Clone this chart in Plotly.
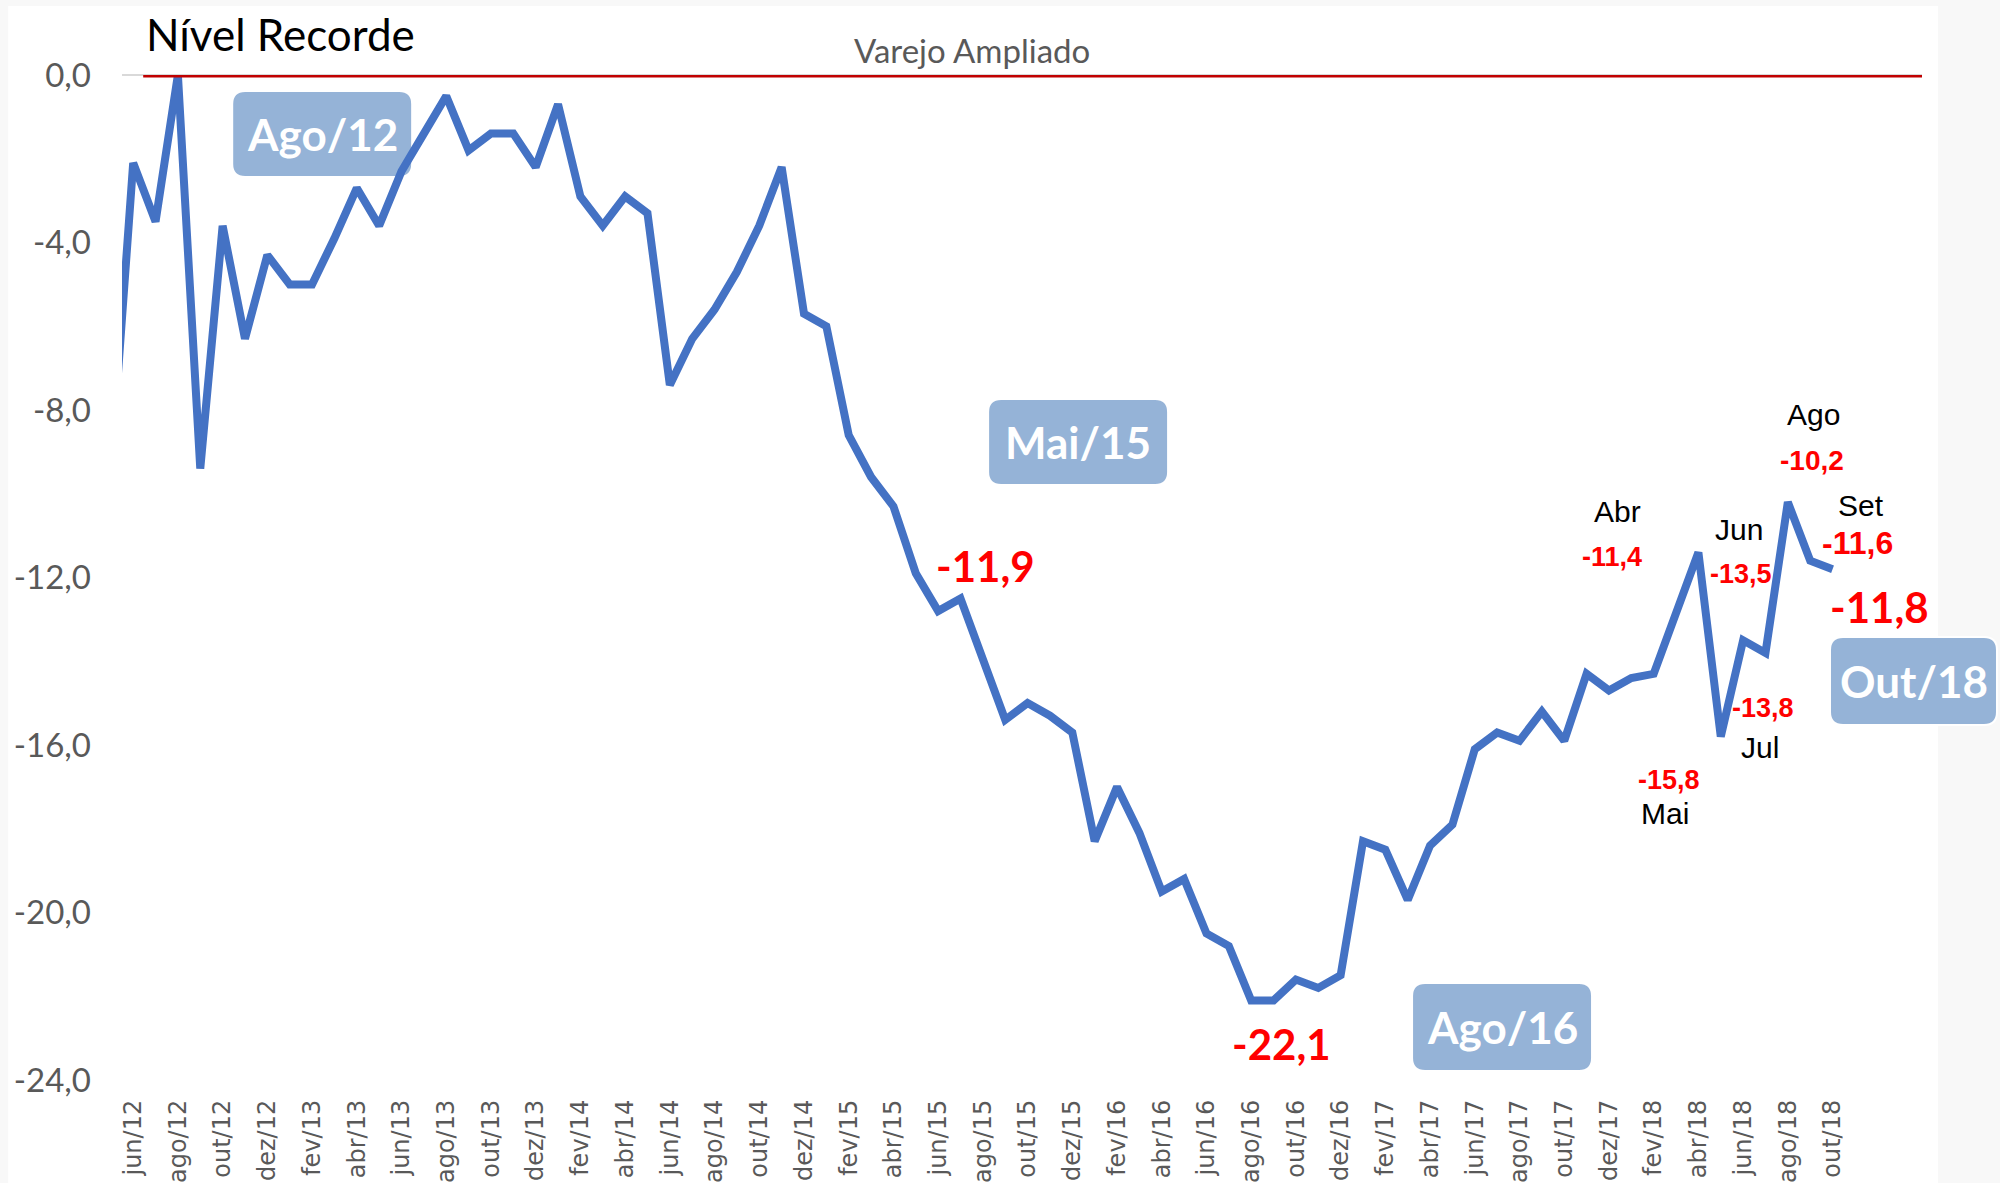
import plotly.graph_objects as go

# ---------------- data ----------------
MES = ["jan", "fev", "mar", "abr", "mai", "jun", "jul", "ago", "set", "out", "nov", "dez"]
meses = [f"{MES[(4 + i) % 12]}/{12 + (4 + i) // 12}" for i in range(78)]  # mai/12 ... out/18

varejo = [
    -9.5, -2.1, -3.5, 0.0, -9.4, -3.6, -6.3, -4.3,            # mai/12 - dez/12
    -5.0, -5.0, -3.9, -2.7, -3.6, -2.3, -1.4, -0.5, -1.8, -1.4, -1.4, -2.2,   # 2013
    -0.7, -2.9, -3.6, -2.9, -3.3, -7.4, -6.3, -5.6, -4.7, -3.6, -2.2, -5.7,   # 2014
    -6.0, -8.6, -9.6, -10.3, -11.9, -12.8, -12.5, -13.9, -15.4, -15.0, -15.3, -15.7,  # 2015
    -18.3, -17.0, -18.1, -19.5, -19.2, -20.5, -20.8, -22.1, -22.1, -21.6, -21.8, -21.5,  # 2016
    -18.3, -18.5, -19.7, -18.4, -17.9, -16.1, -15.7, -15.9, -15.2, -15.9, -14.3, -14.7,  # 2017
    -14.4, -14.3, -12.8, -11.4, -15.8, -13.5, -13.8, -10.2, -11.6, -11.8,              # 2018
]

tick_labels = meses[1::2]            # jun/12, ago/12, ... out/18
y_ticks = [0, -4, -8, -12, -16, -20, -24]
recorde = 0.0

# ---------------- geometry helpers (figure pixels -> paper) ----------------
FW, FH = 2000, 1183
L, R, T, B = 121.8, 1922.0, 75.0, 1080.0
W, H = R - L, B - T


def xp(px):
    return (px - L) / W


def yp(py):
    return (B - py) / H


def rbox(x0, y0, x1, y1, r):
    def P(px, py):
        return f"{xp(px):.5f},{yp(py):.5f}"
    return (f"M {P(x0 + r, y0)} L {P(x1 - r, y0)} Q {P(x1, y0)} {P(x1, y0 + r)} "
            f"L {P(x1, y1 - r)} Q {P(x1, y1)} {P(x1 - r, y1)} L {P(x0 + r, y1)} "
            f"Q {P(x0, y1)} {P(x0, y1 - r)} L {P(x0, y0 + r)} Q {P(x0, y0)} {P(x0 + r, y0)} Z")


def fmt(v):
    return f"{v:.1f}".replace(".", ",")


BLUE = "#4472C4"
RED = "#FF0000"
GRAY = "#595959"
BOX = "#95B3D7"

fig = go.Figure()
fig.add_trace(go.Scatter(
    x=meses, y=varejo, mode="lines",
    line=dict(color=BLUE, width=8),
    hoverinfo="skip", showlegend=False,
))

shapes = []
# white chart area on light grey page
shapes.append(dict(type="rect", xref="paper", yref="paper",
                   x0=xp(8), x1=xp(1938), y0=yp(1183), y1=yp(6),
                   fillcolor="white", line=dict(width=0), layer="below"))
# rounded highlight boxes
boxes = [  # (category index, pixel box)
    (3, (232, 91, 412, 177)),
    (36, (988, 399, 1168, 485)),
    (51, (1412, 983, 1592, 1071)),
    (77, (1830, 637, 1997, 725)),
]
for idx, (x0, y0, x1, y1) in boxes:
    shapes.append(dict(type="path", xref="paper", yref="paper",
                       path=rbox(x0, y0, x1, y1, 13),
                       fillcolor=BOX, line=dict(color="white", width=2), layer="below"))
# record level line
shapes.append(dict(type="line", xref="paper", yref="y",
                   x0=xp(143), x1=1.0, y0=recorde, y1=recorde,
                   line=dict(color="#C00000", width=5), layer="above"))

ann = []
# titles
ann.append(dict(text="Nível Recorde", xref="paper", yref="paper", x=xp(144), y=yp(34),
                xanchor="left", yanchor="middle", showarrow=False,
                font=dict(family="Lato", size=44, color="black")))
ann.append(dict(text="Varejo Ampliado", xref="paper", yref="paper", x=xp(972), y=yp(50),
                xanchor="center", yanchor="middle", showarrow=False,
                font=dict(family="Lato", size=33, color=GRAY)))
# box texts
for idx, (x0, y0, x1, y1) in boxes:
    lab = meses[idx].capitalize()
    ann.append(dict(text=f"<b>{lab}</b>", xref="paper", yref="paper",
                    x=xp((x0 + x1) / 2), y=yp((y0 + y1) / 2),
                    xanchor="center", yanchor="middle", showarrow=False,
                    font=dict(family="Lato", size=44, color="white")))

# big value labels (anchored on data points, pixel offsets)
big = [(36, 70, 7), (51, 30, -44), (77, 47, -38)]
for idx, dx, dy in big:
    ann.append(dict(text=f"<b>{fmt(varejo[idx])}</b>", x=meses[idx], y=varejo[idx],
                    xref="x", yref="y", xshift=dx, yshift=dy, showarrow=False,
                    xanchor="center", yanchor="middle",
                    font=dict(family="Lato", size=42, color=RED)))

# small month / value labels for 2018
small = [  # idx, month dx, dy, value dx, dy, value size
    (71, -81, 41, -86, -5, 27),
    (72, -56, -77, -52, -43, 27),
    (73, -4, 111, -2, 66, 27),
    (74, -5, -95, -2, -55, 27),
    (75, 26, 88, 24, 42, 28),
    (76, 51, 55, 47, 18, 32),
]
for idx, mdx, mdy, vdx, vdy, vs in small:
    nome = meses[idx].split("/")[0].capitalize()
    ann.append(dict(text=nome, x=meses[idx], y=varejo[idx], xref="x", yref="y",
                    xshift=mdx, yshift=mdy, showarrow=False,
                    xanchor="center", yanchor="middle",
                    font=dict(family="Liberation Sans", size=30, color="black")))
    ann.append(dict(text=f"<b>{fmt(varejo[idx])}</b>", x=meses[idx], y=varejo[idx],
                    xref="x", yref="y", xshift=vdx, yshift=vdy, showarrow=False,
                    xanchor="center", yanchor="middle",
                    font=dict(family="Liberation Sans", size=vs, color=RED)))

fig.update_layout(
    width=FW, height=FH,
    margin=dict(l=L, r=FW - R, t=T, b=FH - B, pad=0, autoexpand=False),
    paper_bgcolor="#F8F8F8", plot_bgcolor="rgba(0,0,0,0)",
    shapes=shapes, annotations=ann, showlegend=False,
    xaxis=dict(type="category", categoryorder="array", categoryarray=meses,
               range=[0.5, 81.0], tickmode="array", tickvals=tick_labels, ticktext=tick_labels,
               tickangle=-90, showgrid=False, zeroline=False, showline=False, ticks="",
               ticklabelstandoff=14, automargin=False,
               tickfont=dict(family="DejaVu Sans", size=24, color=GRAY)),
    yaxis=dict(range=[-24, 0], tickmode="array", tickvals=y_ticks,
               ticktext=[fmt(v) for v in y_ticks],
               showgrid=False, zeroline=True, zerolinecolor="#D9D9D9", zerolinewidth=1.5,
               showline=False, ticks="", ticklabelstandoff=30, automargin=False,
               tickfont=dict(family="Lato", size=33, color=GRAY)),
)

fig.write_html("out.html", config={"displayModeBar": False},
               post_script="document.body.style.margin='0px';document.body.style.overflow='hidden';")
